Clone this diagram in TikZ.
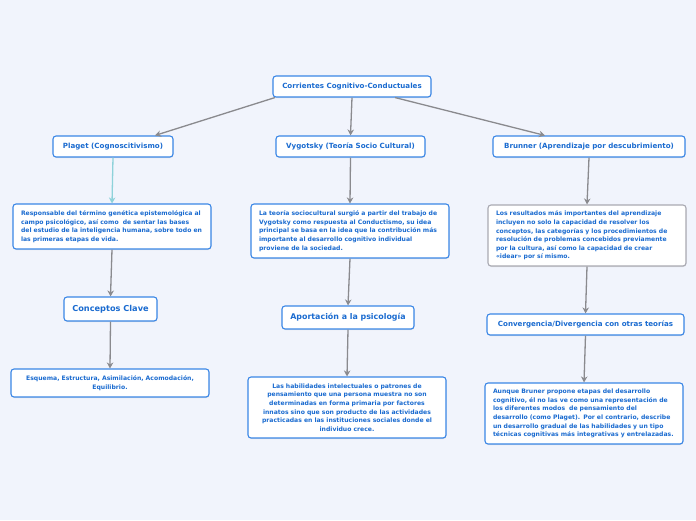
\documentclass[tikz,border=0pt]{standalone}
\usepackage{fontspec}
\setmainfont{DejaVu Sans}
\usetikzlibrary{arrows.meta,calc,shadows}
\definecolor{bgc}{HTML}{F1F4FC}
\definecolor{bordc}{HTML}{3A86E6}
\definecolor{txtc}{HTML}{1A6BD0}
\definecolor{arrc}{HTML}{8A8A8E}
\definecolor{tealc}{HTML}{8ED2DA}
\definecolor{grayb}{HTML}{A9A9B2}
\begin{document}
\begin{tikzpicture}[x=1pt,y=-1pt,
  box/.style={draw=bordc, line width=1.1pt, fill=white, rounded corners=3pt, text=txtc,
    font=\bfseries\fontsize{7.1}{8}\selectfont, inner sep=0pt, align=center,
    drop shadow={shadow xshift=0.4pt, shadow yshift=-1pt, opacity=0.18}},
  para/.style={box, font=\bfseries\fontsize{6.1}{8.6}\selectfont, align=left,
    text width=182pt, inner xsep=8pt, inner ysep=3pt},
  arr/.style={draw=arrc, line width=1.3pt, -{Stealth[length=6pt,width=6.5pt]}}]
\fill[bgc] (0,0) rectangle (696,520);
\useasboundingbox (0,0) rectangle (696,520);

\node[box, minimum width=158pt, minimum height=21pt] (root) at (352,86.5) {Corrientes Cognitivo-Conductuales};
\node[box, minimum width=120pt, minimum height=21pt] (plaget) at (113,146.5) {Plaget (Cognoscitivismo)};
\node[box, minimum width=149pt, minimum height=21pt] (vyg) at (350.5,146.5) {Vygotsky (Teoría Socio Cultural)};
\node[box, minimum width=192pt, minimum height=21pt] (brun) at (589,146.5) {Brunner (Aprendizaje por descubrimiento)};

\node[para, minimum height=45pt] (ptext) at (112,226.5) {Responsable del término genética epistemológica al\\campo psicológico, así como \ de sentar las bases\\del estudio de la inteligencia humana, sobre todo en\\las primeras etapas de vida.};
\node[para, minimum height=54pt] (vtext) at (350,231) {La teoría sociocultural surgió a partir del trabajo de\\Vygotsky como respuesta al Conductismo, su idea\\principal se basa en la idea que la contribución más\\importante al desarrollo cognitivo individual\\proviene de la sociedad.};
\node[para, draw=grayb, minimum height=61pt] (btext) at (587,235.5) {Los resultados más importantes del aprendizaje\\incluyen no solo la capacidad de resolver los\\conceptos, las categorías y los procedimientos de\\resolución de problemas concebidos previamente\\por la cultura, así como la capacidad de crear\\«idear» por sí mismo.};

\node[box, font=\bfseries\fontsize{8.2}{10}\selectfont, minimum width=93pt, minimum height=24pt] (cc) at (110.5,309) {Conceptos Clave};
\node[box, font=\bfseries\fontsize{7.9}{10}\selectfont, minimum width=132pt, minimum height=23pt] (apo) at (348,317.5) {Aportación a la psicología};
\node[box, minimum width=197pt, minimum height=21pt] (conv) at (585.5,324.5) {Convergencia/Divergencia con otras teorías};

\node[para, align=center, minimum height=28pt] (esq) at (110,383) {Esquema, Estructura, Asimilación, Acomodación,\\Equilibrio.};
\node[para, align=center, minimum height=61pt] (hab) at (347,407.5) {Las habilidades intelectuales o patrones de\\pensamiento que una persona muestra no son\\determinadas en forma primaria por factores\\innatos sino que son producto de las actividades\\practicadas en las instituciones sociales donde el\\individuo crece.};
\node[para, minimum height=61pt] (aun) at (584,413.5) {Aunque Bruner propone etapas del desarrollo\\cognitivo, él no las ve como una representación de\\los diferentes modos \ de pensamiento del\\desarrollo (como Plaget). Por el contrario, describe\\un desarrollo gradual de las habilidades y un tipo\\técnicas cognitivas más integrativas y entrelazadas.};

\draw[arr] ($(root.south)+(-77,0)$) -- ($(plaget.north)+(42,0)$);
\draw[arr] (root.south) -- (vyg.north);
\draw[arr] ($(root.south)+(43,0)$) -- ($(brun.north)+(-44,0)$);
\draw[arr, draw=tealc] (plaget.south) -- (ptext.north);
\draw[arr] (ptext.south) -- (cc.north);
\draw[arr] (cc.south) -- (esq.north);
\draw[arr] (vyg.south) -- (vtext.north);
\draw[arr] (vtext.south) -- (apo.north);
\draw[arr] (apo.south) -- (hab.north);
\draw[arr] (brun.south) -- (btext.north);
\draw[arr] (btext.south) -- (conv.north);
\draw[arr] (conv.south) -- (aun.north);
\end{tikzpicture}
\end{document}
